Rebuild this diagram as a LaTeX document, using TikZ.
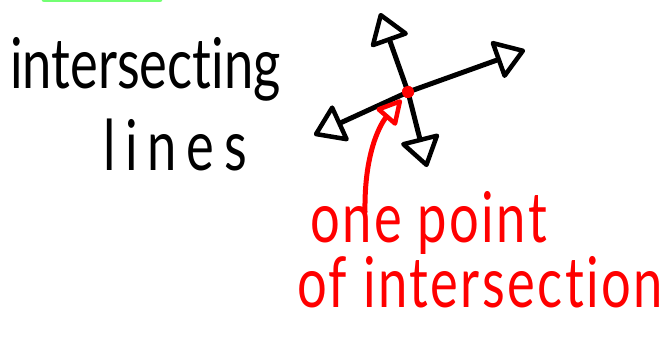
\documentclass[tikz,border=0pt]{standalone}
\usepackage{fontspec}
\setmainfont{Lato}
\newfontfamily\markerfont[FakeStretch=0.75,RawFeature={-liga;-clig;-dlig}]{Lato}
\newfontfamily\spacedfont[FakeStretch=0.75,LetterSpace=14,RawFeature={-liga;-clig;-dlig}]{Lato}
\newfontfamily\notefont[FakeStretch=0.75,LetterSpace=3.5,RawFeature={-liga;-clig;-dlig}]{Lato}
\usetikzlibrary{arrows.meta}

\tikzset{
  marker/.style={line width=5pt, line cap=round, line join=round},
  opentip/.tip={Triangle[open,length=32pt,width=42pt,line width=4.5pt,round]},
  smalltip/.tip={Triangle[open,length=27pt,width=28pt,line width=4.5pt,round]},
  handtext/.style={inner sep=0pt, anchor=base west, font=\markerfont\fontsize{70}{57}\selectfont}
}

\begin{document}
\begin{tikzpicture}[x=1pt, y=-1pt]
	\useasboundingbox (0,0) rectangle (672,341);
	
	% --- Green stroke (cut at top edge) ---
	\draw[line width=5pt, line cap=round, draw=green!55!white] (44,-0.5) -- (160,-0.5);
	
	% --- Title ---
	\node[handtext] (title1) at (10,88) {intersecting};
	\node[handtext, font=\spacedfont\fontsize{70}{57}\selectfont] (title2) at (103,170) {lines};
	
	% --- Crossing point and arrow ends ---
	\node[circle, fill=red, inner sep=0pt, minimum size=12pt] (cross) at (408,92) {};
	\coordinate (upTip) at (380,13);
	\coordinate (downTip) at (427,167);
	\coordinate (leftTip) at (314,135);
	\coordinate (rightTip) at (525,50);
	
	% --- The two lines ---
	\draw[marker, black, opentip-opentip] (upTip) -- (cross.center) -- (downTip);
	\draw[marker, black, opentip-opentip] (leftTip) -- (cross.center) -- (rightTip);
	\node[circle, fill=red, inner sep=0pt, minimum size=12pt] at (cross) {};
	
	% --- Red label ---
	\node[handtext, text=red, align=left, font=\notefont\fontsize{70}{57}\selectfont] (label) at (297,307) {\hspace{13pt}one point\\of intersection};
	\coordinate (pointer) at (365,212);
	\draw[marker, red, -smalltip, shorten >=4pt] (pointer) .. controls (364,150) and (382,122) .. (cross);
\end{tikzpicture}
\end{document}
